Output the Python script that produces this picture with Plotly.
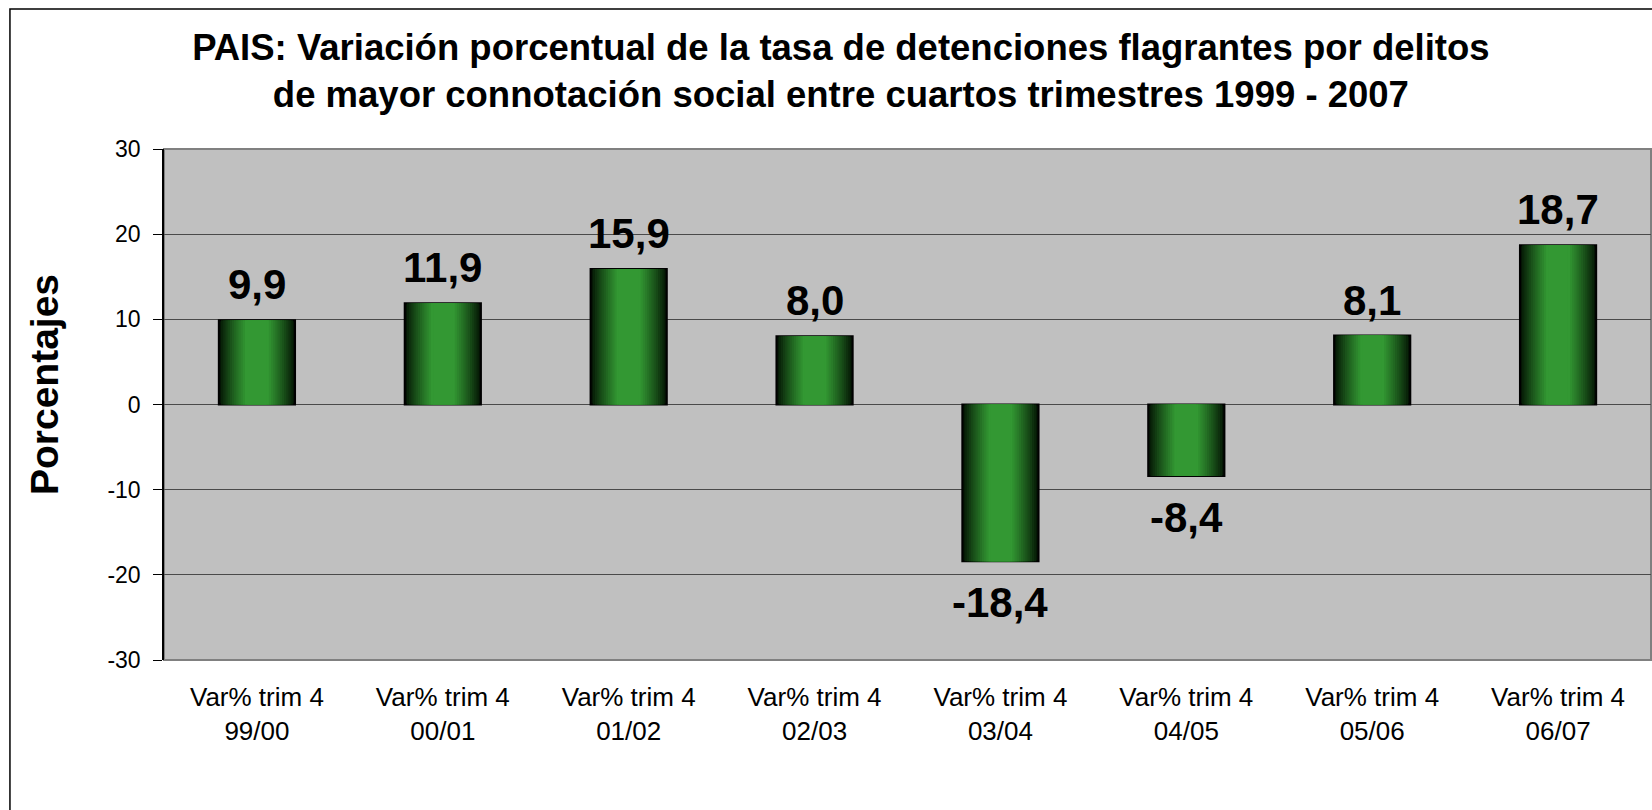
import plotly.graph_objects as go

# datos
categorias = [
    "Var% trim 4<br>99/00",
    "Var% trim 4<br>00/01",
    "Var% trim 4<br>01/02",
    "Var% trim 4<br>02/03",
    "Var% trim 4<br>03/04",
    "Var% trim 4<br>04/05",
    "Var% trim 4<br>05/06",
    "Var% trim 4<br>06/07",
]
variacion = [9.9, 11.9, 15.9, 8.0, -18.4, -8.4, 8.1, 18.7]
ticks_y = [-30, -20, -10, 0, 10, 20, 30]
etiquetas_y = ["-30", "-20", "-10", "0", "10", "20", "30"]

titulo = ("PAIS: Variación porcentual de la tasa de detenciones flagrantes por delitos<br>"
          "de mayor connotación social entre cuartos trimestres 1999 - 2007")

FONT = "Liberation Sans, Arial, sans-serif"
ANCHO_BARRA = 0.41
CAPAS = 14
OSCURO = (4, 20, 4)
VERDE = (51, 152, 51)


def color_capa(d):
    # d: distancia al borde de la barra (0 = borde, 0.5 = centro)
    t = min(d / 0.34, 1.0) ** 0.85
    r, g, b = (int(OSCURO[i] + (VERDE[i] - OSCURO[i]) * t) for i in range(3))
    return f"rgb({r},{g},{b})"


fig = go.Figure()

# barras con degradado horizontal (capas superpuestas cada vez más angostas)
for k in range(CAPAS):
    d = 0.4 * k / CAPAS
    fig.add_trace(go.Bar(
        x=categorias,
        y=variacion,
        width=ANCHO_BARRA * (1 - 2 * d),
        marker=dict(
            color=color_capa(d),
            line=dict(color="black", width=2 if k == 0 else 0),
        ),
        showlegend=False,
        hoverinfo="skip" if k else None,
    ))

# etiquetas de valores
for cat, v in zip(categorias, variacion):
    fig.add_annotation(
        x=cat, y=v,
        text=f"{v:.1f}".replace(".", ","),
        showarrow=False,
        yanchor="bottom" if v >= 0 else "top",
        yshift=10 if v >= 0 else -16,
        font=dict(family=FONT, size=42, color="black", weight="bold"),
    )

fig.add_annotation(
    x=-0.0807, y=0.54, xref="paper", yref="paper",
    xanchor="center", yanchor="middle",
    text="<b>Porcentajes</b>", textangle=-90, showarrow=False,
    font=dict(family=FONT, size=39, color="black"),
)

# marco del gráfico
fig.add_shape(
    type="rect", xref="paper", yref="paper",
    x0=-0.1036, x1=1.2, y0=-0.6, y1=1.274,
    line=dict(color="black", width=1.5), layer="below",
)
fig.add_shape(
    type="rect", xref="paper", yref="paper",
    x0=0, x1=1, y0=0, y1=1,
    line=dict(color="#808080", width=2), layer="below",
)

fig.update_layout(
    width=1652,
    height=810,
    barmode="overlay",
    paper_bgcolor="white",
    plot_bgcolor="#C0C0C0",
    margin=dict(l=164, r=1, t=149, b=150, autoexpand=False),
    font=dict(family=FONT, color="black"),
    title=dict(
        text=titulo,
        x=0.509, xref="container", xanchor="center",
        y=0.926, yanchor="top",
        font=dict(family=FONT, size=36.5, color="black", weight="bold"),
    ),
    xaxis=dict(
        type="category",
        automargin=False,
        showgrid=False,
        ticks="",
        showline=False,
        zeroline=False,
        tickfont=dict(size=26),
        ticklabelstandoff=19,
    ),
    xaxis2=dict(
        overlaying="x",
        anchor="free",
        position=0.5,
        automargin=False,
        range=[-0.5, 7.5],
        tickmode="array",
        tickvals=[i + 0.5 for i in range(len(categorias))],
        ticks="outside",
        ticklen=8,
        tickwidth=1.5,
        tickcolor="black",
        showticklabels=False,
        showline=True,
        linecolor="black",
        linewidth=2,
        showgrid=False,
        zeroline=False,
    ),
    yaxis=dict(
        automargin=False,
        range=[-30, 30],
        tickvals=ticks_y,
        ticktext=etiquetas_y,
        showgrid=True,
        gridcolor="#4a4a4a",
        gridwidth=1,
        zeroline=False,
        showline=True,
        linecolor="black",
        linewidth=1.5,
        ticks="outside",
        ticklen=9,
        tickcolor="black",
        tickfont=dict(size=23),
        ticklabelstandoff=8,
    ),
)

# sin margen del body para que el gráfico ocupe la ventana completa
fig.write_html(
    "out.html",
    config={"displayModeBar": False},
    post_script="document.body.style.margin = '0';",
)
